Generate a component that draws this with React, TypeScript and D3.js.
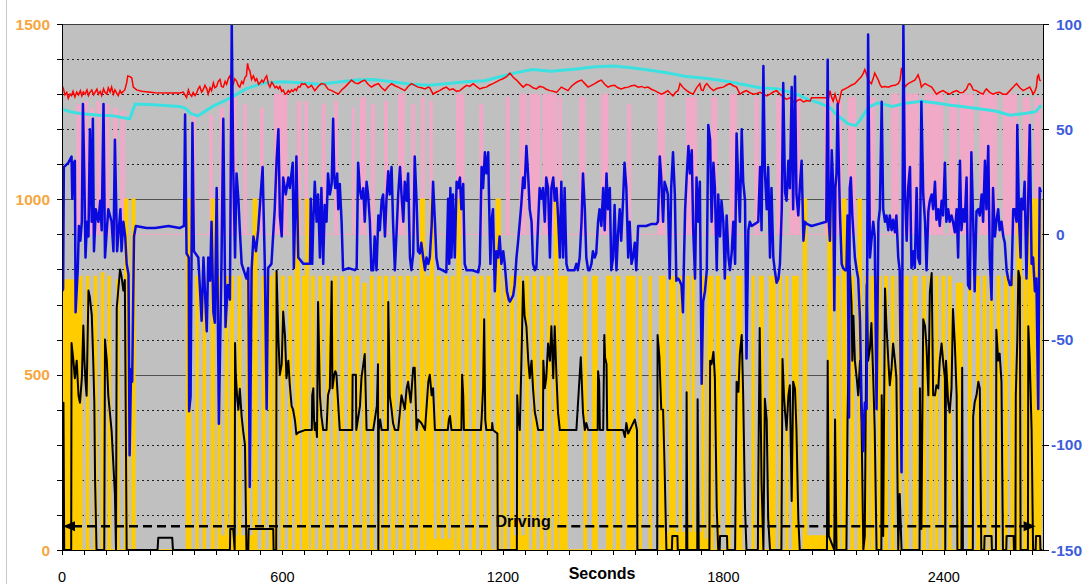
import React from 'react';
import * as d3 from 'd3';

const W = 1090;
const H = 584;
const X_MAX = 2670;
const leftTicks = [0, 500, 1000, 1500];
const rightTicks = [-150, -100, -50, 0, 50, 100];
const xLabelTicks = [0, 600, 1200, 1800, 2400];
const xTitle = 'Seconds';
const drivingLabel = 'Driving';
const drivingStart = 0;
const drivingEnd = 2650;
const drivingLevel = 68;
const drivingGap = [1160, 1348];
const drivingTextT = 1255;
const PINK_BASE = 900;

// Blue series (right axis)
const blueSeries = [
[0,-27],[3,-26],[5,32],[17,34],[26,37],[28,17],[32,34],[35,35],[37,-37],[43,-16],[46,4],[50,-3],[54,6],[57,62],[61,25],[64,-11],[68,6],[72,-1],[76,50],[81,6],[84,55],[87,-8],[92,12],[99,6],[104,16],[108,2],[113,62],[117,-11],[122,2],[126,12],[135,6],[140,-8],[144,45],[150,-8],[153,-1],[159,12],[162,-8],[167,6],[172,-1],[176,-14],[181,-19],[184,-105],[188,-64],[191,-70],[196,-1],[201,4],[230,3],[253,3],[290,4],[320,3],[332,4],
[335,57],[339,-9],[345,-11],[346,-84],[350,-77],[355,53],[359,-8],[371,-11],[380,-41],[385,-11],[394,-46],[398,-11],[403,-22],[407,6],[412,-37],[416,-42],[421,22],[427,-90],[434,-14],[439,55],[445,-44],[451,-24],[457,-31],[462,100],[466,32],[471,-11],[475,29],[480,17],[484,2],[489,-14],[502,-21],[507,-16],[511,-120],[516,-17],[521,-1],[528,-8],[534,2],[546,32],[552,-14],[557,-83],[561,-16],[570,-14],[579,12],[584,35],[589,50],[593,9],[598,-1],[602,27],[609,19],[616,27],[620,22],[628,34],[631,-16],[638,37],[643,-11],[657,-14],
[661,-14],[675,-14],[677,17],[681,-14],[684,6],[688,25],[693,6],[697,19],[702,-11],[706,22],[711,-14],[715,14],[720,6],[724,29],[729,19],[734,24],[738,55],[741,27],[744,22],[749,29],[752,12],[756,24],[761,6],[765,-17],[780,-16],[797,-17],[802,-16],[806,34],[811,21],[815,17],[820,22],[824,6],[829,25],[833,19],[838,6],[842,-17],[847,-17],[851,-1],[856,-17],[861,9],[865,2],[870,16],[874,19],[879,-1],[883,16],[888,30],[892,19],[897,32],[901,6],[906,-17],[910,-1],[915,19],[920,32],[924,19],[929,6],[933,25],[938,16],[942,29],[947,-11],[951,-17],[956,-9],[960,37],[965,16],[969,-8],[974,-9],[978,-4],[983,-11],[988,-17],[992,-11],[997,-14],[1001,-11],[1006,4],
[1010,25],[1015,6],[1019,-11],[1024,-16],[1035,-17],[1046,-18],[1051,17],[1054,-14],[1057,22],[1060,-11],[1064,19],[1069,-11],[1074,25],[1078,22],[1083,27],[1087,12],[1092,24],[1096,-14],[1101,-17],[1115,-17],[1133,-18],[1137,-14],[1142,32],[1146,22],[1151,39],[1155,29],[1160,39],[1162,19],[1166,-14],[1169,6],[1173,12],[1178,-27],[1182,-8],[1187,-11],[1191,-1],[1196,-14],[1201,-8],[1205,-14],[1211,-27],[1216,-31],[1219,-32],[1228,-29],[1232,-24],[1237,-11],[1241,-4],[1246,6],[1250,14],[1255,27],[1259,22],[1264,42],[1269,27],[1273,12],[1278,6],[1282,-14],[1287,-17],[1291,-16],[1296,6],[1300,22],[1305,17],[1309,22],[1314,6],[1318,27],[1323,22],[1328,-11],[1332,22],[1337,27],[1341,16],[1346,22],
[1350,9],[1355,-11],[1359,25],[1364,-11],[1368,22],[1373,-14],[1377,-17],[1395,-17],[1400,-14],[1404,-17],[1409,-11],[1414,6],[1418,29],[1423,12],[1427,-11],[1432,-17],[1436,-17],[1441,-14],[1445,-8],[1450,-11],[1454,-9],[1459,6],[1463,12],[1468,4],[1473,22],[1477,2],[1482,29],[1486,12],[1491,22],[1495,-17],[1500,-11],[1504,14],[1509,-17],[1513,-1],[1518,12],[1522,-3],[1527,16],[1531,34],[1536,22],[1541,-11],[1545,6],[1550,-14],[1554,-11],[1559,-4],[1563,-17],[1568,4],[1590,4],[1605,5],[1618,5],[1622,6],[1627,37],[1631,27],[1636,6],[1640,25],[1645,22],[1649,19],[1654,-21],[1658,22],[1663,39],[1668,19],[1672,-22],[1677,-21],[1681,-22],[1686,-24],[1690,-37],
[1693,-11],[1696,12],[1700,27],[1705,42],[1709,29],[1714,40],[1718,2],[1723,-21],[1727,27],[1732,6],[1736,25],[1741,-71],[1745,-32],[1750,-27],[1755,-17],[1759,52],[1764,45],[1768,6],[1773,34],[1777,22],[1782,-17],[1786,19],[1791,-1],[1795,16],[1800,6],[1804,-21],[1809,9],[1814,-11],[1818,-17],[1823,-8],[1827,6],[1832,-14],[1836,48],[1841,22],[1845,6],[1850,50],[1854,25],[1859,16],[1863,-59],[1868,2],[1872,6],[1877,4],[1886,5],[1895,6],[1900,32],[1904,2],[1909,80],[1913,30],[1918,12],[1922,32],[1927,-11],[1931,22],[1936,-11],[1940,-17],[1945,-23],[1950,-21],[1954,-14],[1959,12],[1963,72],[1968,20],[1972,16],[1977,35],[1981,22],[1986,70],[1990,12],[1995,75],[1999,19],[2004,9],[2008,22],[2013,35],[2018,-3],[2022,6],[2027,5],
[2040,4],[2060,5],[2080,6],[2084,83],[2087,6],[2090,-3],[2095,40],[2099,22],[2102,-36],[2105,22],[2108,29],[2111,62],[2115,27],[2117,12],[2122,-14],[2126,-16],[2131,-17],[2135,-17],[2138,9],[2142,-87],[2144,22],[2147,27],[2151,9],[2158,-11],[2163,-17],[2167,-21],[2172,-41],[2176,-80],[2181,-103],[2185,-80],[2190,-83],[2194,95],[2199,-11],[2203,-3],[2208,6],[2212,-1],[2217,-83],[2222,6],[2226,12],[2231,63],[2235,12],[2240,6],[2244,9],[2249,2],[2253,9],[2258,2],[2262,7],[2267,1],[2271,9],[2276,-11],[2280,-17],[2285,-113],[2290,100],[2294,22],[2299,-3],[2303,22],[2308,32],[2312,-16],[2317,-8],[2321,-16],[2326,22],[2330,-11],[2335,-14],[2339,63],[2344,19],[2349,6],[2353,-17],[2358,11],[2362,16],
[2367,19],[2371,12],[2376,25],[2380,7],[2385,12],[2389,4],[2394,16],[2398,9],[2403,34],[2407,6],[2412,12],[2416,6],[2421,9],[2425,6],[2430,1],[2435,12],[2439,-11],[2444,35],[2448,2],[2453,12],[2457,6],[2462,27],[2466,-24],[2471,-26],[2475,39],[2480,6],[2484,-27],[2489,11],[2494,12],[2498,9],[2503,19],[2507,6],[2512,35],[2516,12],[2521,42],[2525,-11],[2530,-31],[2534,22],[2539,-1],[2543,6],[2548,12],[2552,2],[2557,6],[2562,-1],[2566,-4],[2571,-17],[2575,-21],[2580,-24],[2584,-24],[2589,12],[2593,12],[2598,6],[2600,52],[2605,6],[2609,-11],[2611,17],[2616,12],[2620,25],[2625,-21],[2630,19],[2634,52],[2639,-14],[2643,-11],[2648,-27],[2652,-21],[2657,-83],[2661,22],[2664,20]
];

// Red series (left axis)
const redSeries = [
[0,1325],[4,1315],[8,1298],[13,1305],[17,1288],[22,1300],[26,1296],[30,1308],[35,1292],[40,1306],[45,1298],[50,1310],[54,1295],[58,1306],[63,1300],[68,1312],[72,1296],[76,1305],[81,1312],[86,1298],[90,1305],[95,1314],[99,1300],[104,1308],[108,1296],[113,1315],[117,1305],[122,1300],[126,1318],[131,1306],[135,1320],[140,1300],[144,1312],[149,1302],[153,1296],[158,1310],[162,1302],[167,1308],[171,1312],[176,1332],[179,1352],[185,1350],[190,1346],[194,1320],[203,1312],[217,1308],[253,1304],[300,1303],[321,1303],[330,1306],[339,1290],[344,1312],[348,1300],[353,1294],[357,1305],[362,1296],[366,1302],[371,1316],[375,1322],[380,1306],[384,1312],[389,1325],[394,1315],[398,1300],[403,1318],[407,1310],[412,1332],[416,1318],[421,1322],[425,1336],[430,1342],[434,1322],[439,1320],[444,1336],[448,1328],[453,1345],[457,1352],[462,1332],[466,1328],[470,1344],[475,1338],[480,1324],[484,1320],[489,1336],[493,1330],[498,1348],[502,1352],[505,1388],[508,1372],[511,1368],[516,1342],[521,1352],[526,1338],[530,1344],[535,1328],[539,1332],[544,1340],[548,1334],[553,1346],[557,1352],[562,1328],[566,1320],[571,1334],[575,1328],[580,1318],[584,1322],[589,1315],[593,1322],[598,1308],[602,1312],[607,1300],[611,1302],[616,1310],[620,1304],[625,1312],[629,1308],[634,1315],[638,1310],[643,1322],[648,1320],[652,1330],[657,1328],
[661,1330],[670,1318],[679,1325],[688,1310],[697,1322],[706,1330],[715,1328],[724,1314],[734,1310],[743,1305],[752,1300],[761,1312],[770,1320],[779,1330],[788,1340],[797,1332],[806,1330],[815,1336],[824,1340],[833,1328],[842,1320],[851,1326],[861,1330],[870,1318],[879,1310],[888,1322],[897,1330],[906,1324],[915,1320],[924,1315],[933,1310],[942,1322],[951,1330],[960,1325],[969,1320],[978,1318],[988,1315],[997,1320],
[1001,1318],[1010,1300],[1019,1306],[1028,1310],[1037,1316],[1046,1320],[1055,1312],[1064,1315],[1074,1308],[1083,1310],[1092,1318],[1101,1325],[1110,1322],[1119,1330],[1128,1322],[1137,1315],[1146,1318],[1155,1320],[1164,1326],[1173,1330],[1182,1335],[1191,1340],[1200,1344],[1210,1350],[1219,1360],[1228,1348],[1237,1340],[1246,1330],[1255,1320],[1264,1328],[1273,1325],[1282,1318],[1291,1315],[1300,1322],[1309,1320],[1318,1314],[1328,1310],[1337,1308],[1346,1305],
[1359,1320],[1368,1315],[1377,1310],[1386,1322],[1395,1330],[1404,1336],[1414,1340],[1423,1330],[1432,1320],[1441,1325],[1450,1330],[1459,1336],[1468,1340],[1477,1328],[1486,1320],[1495,1324],[1504,1325],[1513,1318],[1522,1315],[1531,1318],[1541,1320],[1550,1324],[1559,1325],[1568,1320],[1577,1322],[1586,1318],[1595,1320],[1604,1314],[1613,1310],[1622,1305],[1631,1300],[1640,1304],[1649,1310],[1656,1302],[1663,1295],[1670,1305],[1677,1310],
[1682,1330],[1691,1318],[1700,1310],[1709,1304],[1718,1300],[1727,1318],[1736,1330],[1740,1312],[1745,1310],[1750,1324],[1755,1330],[1764,1318],[1773,1310],[1782,1316],[1791,1318],[1800,1320],[1809,1326],[1818,1330],[1827,1324],[1836,1320],[1845,1300],[1854,1306],[1863,1310],[1872,1304],[1882,1300],[1891,1302],[1900,1305],[1909,1300],[1918,1295],[1927,1300],[1936,1306],[1945,1310],[1954,1300],[1963,1292],[1972,1285],[1981,1290],[1988,1280],[1995,1275],[2002,1282],[2009,1285],[2018,1278],[2027,1282],[2036,1280],
[2040,1290],[2060,1290],[2081,1290],[2085,1280],[2090,1310],[2095,1290],[2099,1280],[2104,1300],[2108,1285],[2113,1270],[2117,1288],[2122,1310],[2131,1315],[2140,1320],[2149,1326],[2158,1330],[2167,1340],[2176,1350],[2181,1360],[2185,1370],[2190,1355],[2194,1340],[2199,1334],[2203,1330],[2208,1345],[2212,1360],[2217,1350],[2222,1340],[2226,1328],[2231,1320],[2240,1322],[2249,1320],[2258,1324],[2267,1325],[2276,1330],[2281,1340],[2285,1375],[2290,1350],[2294,1320],[2299,1326],[2303,1330],[2312,1335],[2321,1340],[2326,1348],[2330,1355],[2335,1340],[2339,1320],[2344,1326],[2349,1330],[2358,1325],[2367,1320],
[2380,1300],[2389,1306],[2398,1310],[2407,1304],[2416,1300],[2425,1306],[2435,1310],[2444,1304],[2453,1305],[2462,1315],[2467,1328],[2471,1330],[2476,1322],[2480,1312],[2489,1310],[2498,1304],[2507,1300],[2512,1310],[2516,1315],[2525,1305],[2534,1300],[2543,1304],[2552,1305],[2561,1300],[2571,1300],[2580,1310],[2589,1320],[2594,1326],[2598,1330],[2607,1318],[2616,1310],[2625,1315],[2634,1320],[2639,1310],[2643,1300],[2648,1308],[2652,1320],[2655,1350],[2658,1355],[2661,1340],[2664,1338]
];

// Cyan series (left axis)
const cyanSeries = [
[0,1258],[20,1250],[50,1245],[100,1240],[140,1238],[170,1232],[185,1230],[195,1260],[200,1272],[250,1270],[320,1265],[335,1260],[350,1245],[370,1238],[410,1265],[460,1290],[500,1315],[550,1332],[600,1335],[660,1332],[700,1328],[800,1340],[850,1342],[950,1328],[1000,1325],[1100,1335],[1150,1338],[1230,1360],[1280,1370],[1330,1365],[1400,1372],[1450,1378],[1500,1380],[1550,1375],[1600,1368],[1650,1360],[1700,1350],[1750,1345],[1800,1338],[1850,1328],[1900,1318],[1950,1315],[2000,1300],[2030,1285],[2060,1275],[2090,1262],[2110,1240],[2140,1215],[2160,1210],[2175,1230],[2195,1262],[2220,1275],[2260,1265],[2300,1275],[2340,1280],[2380,1275],[2420,1268],[2470,1262],[2540,1252],[2580,1240],[2620,1245],[2650,1250],[2665,1268]
];

// Black series (left axis)
const blackSeries = [
[0,0],[3,0],[4,420],[6,0],[25,0],[26,590],[31,540],[35,490],[40,540],[45,440],[49,420],[54,490],[58,640],[61,540],[64,480],[67,440],[72,740],[76,720],[81,670],[85,540],[88,420],[90,200],[94,0],[115,0],[117,600],[122,540],[126,440],[135,340],[144,160],[147,0],[149,690],[153,740],[158,800],[162,780],[167,740],[171,770],[176,0],[260,0],[262,35],[300,35],[302,0],[457,0],[458,60],[466,60],[470,0],[471,590],[473,500],[477,430],[480,400],[484,460],[489,380],[493,340],[498,300],[502,0],[507,0],[508,60],[575,60],[576,0],[583,0],[584,796],[589,600],[593,500],[598,530],[602,680],[607,610],[611,490],[616,540],[620,470],[625,410],[629,400],[634,370],[638,330],[643,335],
[661,342],[680,342],[681,441],[684,461],[686,372],[688,342],[691,362],[694,322],[697,707],[702,441],[706,382],[711,342],[720,342],[724,441],[729,461],[734,766],[736,461],[741,500],[744,510],[747,500],[752,411],[756,342],[790,342],[791,500],[800,500],[801,342],[811,411],[815,490],[824,559],[829,342],[847,342],[857,411],[860,530],[861,0],[862,342],[866,372],[870,342],[887,342],[888,707],[892,441],[897,401],[901,362],[906,342],[915,342],[924,441],[933,401],[938,461],[942,480],[949,421],[956,520],[960,520],[965,342],[969,372],[978,362],[988,342],[997,480],[1001,500],[1006,441],
[1010,461],[1015,342],[1050,342],[1053,372],[1056,382],[1060,342],[1087,342],[1089,500],[1092,441],[1094,342],[1140,342],[1142,372],[1146,461],[1149,658],[1152,372],[1155,342],[1170,342],[1171,362],[1173,342],[1185,332],[1186,0],[1238,0],[1239,441],[1241,392],[1246,342],[1250,520],[1255,766],[1259,668],[1264,638],[1269,540],[1273,490],[1278,540],[1282,461],[1287,392],[1291,372],[1296,342],[1309,342],[1310,540],[1314,461],[1318,490],[1323,589],[1328,540],[1332,638],[1337,490],[1341,638],[1346,490],[1350,392],[1355,342],
[1400,342],[1412,550],[1418,392],[1423,342],[1427,362],[1432,342],[1458,342],[1459,510],[1462,480],[1464,342],[1473,342],[1476,613],[1478,550],[1482,530],[1484,342],[1527,342],[1532,322],[1536,362],[1541,332],[1550,352],[1559,372],[1565,342],[1566,0],[1620,0],[1621,613],[1626,550],[1631,401],[1636,400],[1640,240],[1645,0],[1660,0],[1661,40],[1675,40],[1676,0],[1699,0],[1700,450],[1702,0],[1729,0],[1730,430],[1733,0],[1762,0],[1764,540],[1768,530],[1773,565],[1777,490],[1782,120],[1786,0],[1790,0],[1791,40],[1810,40],[1811,0],[1832,0],[1836,480],[1841,451],[1845,560],[1850,613],[1854,441],[1859,120],[1863,0],[1894,0],[1895,190],[1899,633],[1904,190],[1909,0],[1913,431],[1918,372],[1922,90],[1927,0],[1958,0],[1961,545],[1965,441],[1968,392],[1972,342],[1977,441],[1981,470],[1986,140],[1990,480],[1995,460],[1999,342],[2004,90],[2008,0],
[2082,0],[2084,540],[2087,40],[2102,0],[2104,372],[2108,0],[2135,0],[2138,372],[2140,500],[2144,810],[2149,700],[2151,540],[2154,668],[2158,540],[2163,490],[2167,441],[2172,540],[2176,372],[2181,0],[2185,40],[2190,757],[2194,540],[2199,575],[2203,647],[2208,490],[2212,342],[2217,0],[2230,0],[2231,441],[2235,40],[2240,746],[2244,638],[2249,540],[2253,470],[2258,520],[2262,589],[2267,540],[2271,490],[2276,0],[2280,160],[2285,0],[2334,0],[2335,461],[2339,60],[2344,658],[2349,638],[2353,579],[2358,441],[2362,735],[2367,790],
[2371,441],[2376,441],[2380,470],[2385,461],[2389,540],[2394,589],[2398,540],[2403,490],[2404,0],[2406,540],[2412,420],[2416,392],[2421,461],[2425,687],[2430,589],[2435,441],[2437,0],[2448,0],[2450,520],[2452,0],[2479,0],[2480,382],[2484,421],[2489,441],[2494,480],[2498,461],[2502,0],[2510,0],[2511,40],[2530,40],[2531,0],[2542,0],[2543,628],[2548,540],[2552,560],[2557,480],[2561,0],[2570,0],[2571,40],[2590,40],[2591,0],[2595,0],[2596,441],[2600,599],[2603,796],[2607,776],[2609,0],[2629,0],[2630,638],[2634,540],[2639,342],[2643,0],[2650,0],[2651,40],[2662,40],[2663,0],[2668,0]
];

// Yellow series (left axis), step values
const yellowSeries = [
[0,770],[45,0],[49,780],[54,0],[67,780],[72,0],[88,780],[94,0],[108,790],[113,0],[126,780],[131,0],[149,770],[154,0],[171,1000],[179,0],[191,1000],[198,0],
[339,1000],[350,0],[365,780],[370,0],[385,780],[390,0],[407,1000],[414,0],[425,780],[431,40],[445,780],[451,40],[460,780],[466,40],[480,780],[486,40],[502,780],[509,40],[521,1000],[530,0],[545,780],[551,0],[565,780],[571,0],[578,790],[586,0],[598,780],[604,0],[618,780],[624,0],[636,1000],[645,0],[655,780],[661,0],
[664,1000],[670,0],[680,780],[686,0],[700,780],[706,0],[720,780],[726,0],[740,780],[747,0],[760,780],[766,0],[780,780],[787,0],[800,780],[807,0],[820,760],[827,0],[840,780],[846,0],[860,780],[867,0],[878,780],[885,0],[898,780],[905,0],[918,780],[925,0],[938,780],[945,0],[958,780],[965,0],[976,1000],[986,0],[993,780],[999,0],
[1003,1000],[1010,30],[1022,780],[1029,30],[1042,780],[1048,30],[1060,780],[1067,0],[1076,1000],[1084,0],[1098,780],[1105,0],[1118,780],[1125,0],[1138,780],[1145,0],[1158,780],[1165,0],[1182,1000],[1192,0],[1203,780],[1209,0],[1222,780],[1228,40],[1241,780],[1248,40],[1262,780],[1269,0],[1282,780],[1289,0],[1302,780],[1309,0],[1322,780],[1329,0],[1341,1000],[1348,0],
[1355,780],[1374,0],[1421,780],[1427,0],[1445,780],[1456,0],[1483,780],[1497,0],[1510,780],[1518,0],[1537,780],[1559,0],[1572,780],[1576,0],[1599,780],[1603,0],[1627,780],[1641,50],[1654,780],[1668,50],[1681,780],[1685,50],[1702,780],[1706,50],[1716,780],[1720,50],[1743,780],[1747,30],[1758,780],[1771,0],[1782,780],[1790,0],[1809,780],[1818,0],[1837,780],[1850,0],[1879,780],[1883,0],[1899,780],[1908,0],[1926,780],[1940,0],[1953,780],[1957,0],[1971,780],[1975,0],[1989,780],[2003,0],
[2018,1000],[2026,40],[2085,1000],[2096,0],[2110,780],[2115,0],[2124,1000],[2133,0],[2148,780],[2154,0],[2167,1000],[2175,0],[2188,780],[2194,0],[2203,780],[2209,0],[2222,780],[2228,0],[2240,780],[2246,0],[2258,780],[2264,0],[2276,780],[2282,0],[2296,780],[2302,0],[2318,780],[2326,0],[2344,780],[2350,0],[2362,780],[2368,0],
[2378,780],[2383,0],[2396,780],[2402,0],[2414,780],[2419,0],[2435,760],[2450,0],[2468,780],[2474,0],[2490,780],[2496,0],[2508,780],[2514,0],[2526,780],[2532,0],[2546,780],[2552,0],[2566,780],[2572,0],[2584,780],[2590,0],[2600,1000],[2610,0],[2618,780],[2624,0],[2630,1000],[2645,0],[2650,1000],[2664,0],[2670,0]
];

// Pink series (left axis), step values (0 = none)
const pinkSeries = [
[40,1270],[50,0],[62,1280],[70,0],[78,1260],[86,0],[95,1280],[104,0],[120,1270],[128,0],[140,1260],[150,0],[160,1250],[170,0],
[355,1250],[362,0],[402,1240],[410,0],[430,1260],[440,0],[455,1290],[475,0],[495,1270],[502,0],[540,1260],[548,0],[578,1300],[612,0],[640,1280],[650,0],
[661,1280],[668,0],[708,1270],[716,0],[742,1280],[750,0],[790,1260],[795,0],[812,1290],[826,0],[842,1270],[850,0],[878,1280],[886,0],[915,1300],[932,0],[952,1270],[960,0],[978,1290],[986,0],
[1001,1280],[1008,0],[1074,1300],[1094,0],[1137,1270],[1146,0],[1209,1290],[1218,0],[1246,1300],[1264,0],[1273,1300],[1300,0],[1309,1300],[1346,0],
[1352,1290],[1360,0],[1409,1290],[1423,0],[1468,1300],[1486,0],[1540,1270],[1548,0],[1622,1300],[1640,0],
[1700,1290],[1727,0],[1768,1290],[1782,0],[1818,1300],[1836,0],[1886,1290],[1895,0],[1945,1290],[1963,0],[1981,1290],[2008,0],
[2076,1290],[2094,0],[2108,1280],[2122,0],[2140,1290],[2160,0],[2199,1290],[2212,0],[2258,1300],[2276,0],[2294,1300],[2330,0],[2349,1300],[2398,0],[2416,1290],[2434,0],[2444,1300],[2480,0],[2498,1300],[2543,0],[2562,1300],[2598,0],[2616,1290],[2634,0],[2648,1290],[2664,0]
];

const FONT = 'Liberation Sans, Arial, Helvetica, sans-serif';

export default function App() {
  const left = 62, right = 1043, top = 24, bottom = 550;
  const x = d3.scaleLinear().domain([0, X_MAX]).range([left, right]);
  const yL = d3.scaleLinear().domain([0, 1500]).range([bottom, top]);
  const yR = d3.scaleLinear().domain([-150, 100]).range([bottom, top]);

  const lineL = d3.line().x((d: any) => x(d[0])).y((d: any) => yL(d[1]));
  const lineR = d3.line().x((d: any) => x(d[0])).y((d: any) => yR(d[1]));
  const yellowArea = d3.area()
    .x((d: any) => x(d[0]))
    .y0(yL(0))
    .y1((d: any) => yL(d[1]))
    .curve(d3.curveStepAfter);
  const pinkArea = d3.area()
    .x((d: any) => x(d[0]))
    .y0(yL(PINK_BASE))
    .y1((d: any) => yL(d[1] > 0 ? d[1] : PINK_BASE))
    .curve(d3.curveStepAfter);

  const gridVals = d3.range(100, 1500, 100);
  const minorX = d3.range(0, X_MAX + 1, 60);
  const leftMinor = d3.range(0, 1501, 100);

  const yd = yL(drivingLevel);
  const xs = x(drivingStart) + 1;
  const xe = x(drivingEnd);

  return (
    <svg width={W} height={H} style={{ position: 'absolute', left: 0, top: 0, background: '#fff' }}
      fontFamily={FONT}>
      <defs>
        <clipPath id="plot">
          <rect x={left} y={top} width={right - left} height={bottom - top} />
        </clipPath>
      </defs>
      <rect x={0} y={0} width={W} height={H} fill="#fff" />
      <line x1={6.5} y1={0} x2={6.5} y2={H} stroke="#c8c8c8" />
      <rect x={left} y={top} width={right - left} height={bottom - top} fill="#c0c0c0" />
      {gridVals.map(v => (
        <line key={'g' + v} x1={left} x2={right} y1={Math.round(yL(v)) + 0.5} y2={Math.round(yL(v)) + 0.5}
          stroke={v % 500 === 0 ? '#505050' : '#202020'}
          strokeDasharray={v % 500 === 0 ? undefined : '2,3'} strokeWidth={1} />
      ))}
      <g clipPath="url(#plot)">
        <path d={pinkArea(pinkSeries as any) || ''} fill="#f1a9c8" stroke="#f1a9c8" strokeWidth={1} />
        <path d={yellowArea(yellowSeries as any) || ''} fill="#ffcc00" stroke="#ffcc00" strokeWidth={1.6} strokeLinejoin="miter" />
        <path d={lineL(blackSeries as any) || ''} fill="none" stroke="#000" strokeWidth={2} strokeLinejoin="round" />
        <path d={lineL(cyanSeries as any) || ''} fill="none" stroke="#3de0e0" strokeWidth={3} />
        <path d={lineL(redSeries as any) || ''} fill="none" stroke="#ff0000" strokeWidth={1.5} />
        <path d={lineR(blueSeries as any) || ''} fill="none" stroke="#0a0adf" strokeWidth={2.5} strokeLinejoin="round" />
      </g>
      {/* Driving arrow */}
      <line x1={xs + 10} x2={x(drivingGap[0])} y1={yd} y2={yd} stroke="#000" strokeWidth={2.5} strokeDasharray="9,5" />
      <line x1={x(drivingGap[1])} x2={xe - 10} y1={yd} y2={yd} stroke="#000" strokeWidth={2.5} strokeDasharray="9,5" />
      <path d={`M${xs},${yd} L${xs + 12},${yd - 5} L${xs + 12},${yd + 5} Z`} fill="#000" />
      <path d={`M${xe},${yd} L${xe - 12},${yd - 5} L${xe - 12},${yd + 5} Z`} fill="#000" />
      <text x={x(drivingTextT)} y={yd + 1} textAnchor="middle" fontWeight="bold" fontSize={16} fill="#000">{drivingLabel}</text>

      {/* frame */}
      <line x1={left} x2={right} y1={top + 0.5} y2={top + 0.5} stroke="#404040" />
      <line x1={left + 0.5} x2={left + 0.5} y1={top} y2={bottom} stroke="#000" />
      <line x1={right + 0.5} x2={right + 0.5} y1={top} y2={bottom} stroke="#000" />
      <line x1={left} x2={right} y1={bottom + 0.5} y2={bottom + 0.5} stroke="#000" />

      {leftMinor.map(v => (
        <line key={'lt' + v} x1={left - 5} x2={left} y1={Math.round(yL(v)) + 0.5} y2={Math.round(yL(v)) + 0.5} stroke="#000" />
      ))}
      {rightTicks.map(v => (
        <line key={'rt' + v} x1={right} x2={right + 6} y1={Math.round(yR(v)) + 0.5} y2={Math.round(yR(v)) + 0.5} stroke="#000" />
      ))}
      {minorX.map(v => (
        <line key={'xt' + v} x1={Math.round(x(v)) + 0.5} x2={Math.round(x(v)) + 0.5} y1={bottom} y2={bottom + 5} stroke="#000" />
      ))}

      {leftTicks.map(v => (
        <text key={'ll' + v} x={50} y={yL(v) + 5.5} textAnchor="end" fontSize={15.5} fontWeight="bold" fill="#f6a63e">{v}</text>
      ))}
      {rightTicks.map(v => (
        <text key={'rl' + v} x={v < 0 ? 1051 : 1056} y={yR(v) + 5.5} textAnchor="start" fontSize={15.5} fontWeight="bold" fill="#3d5ddb">{v}</text>
      ))}
      {xLabelTicks.map(v => (
        <text key={'xl' + v} x={x(v)} y={582} textAnchor="middle" fontSize={14.5} fill="#000">{v}</text>
      ))}
      <text x={602} y={579} textAnchor="middle" fontSize={16} fontWeight="bold" fill="#000">{xTitle}</text>
    </svg>
  );
}
